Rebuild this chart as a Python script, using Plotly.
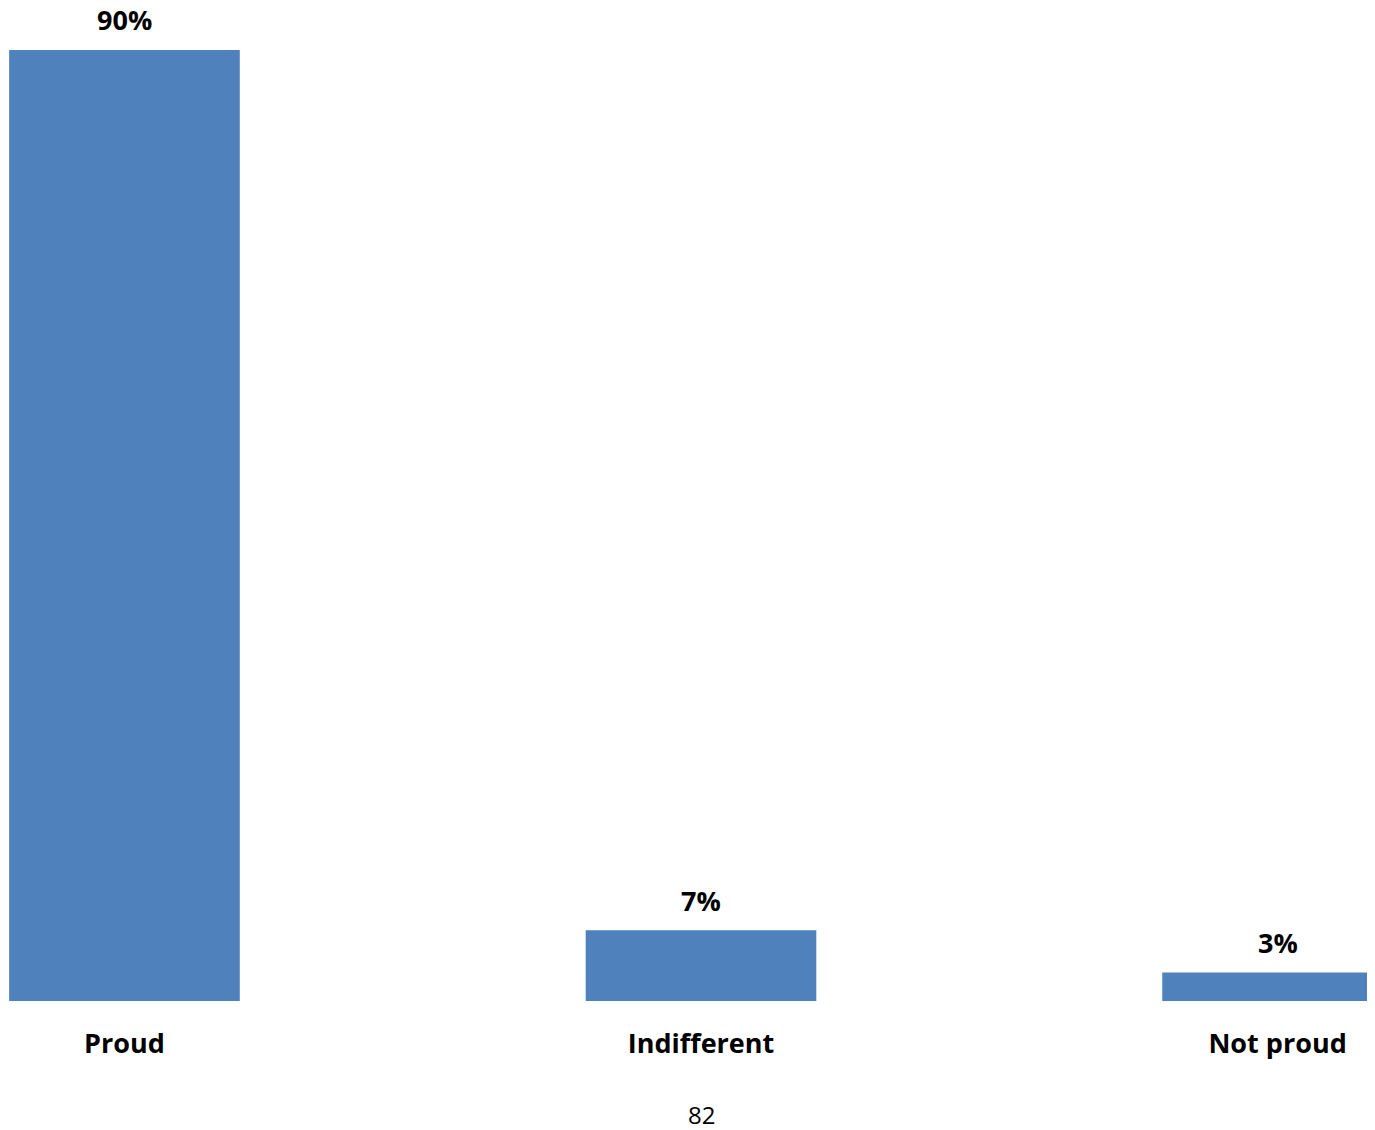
import plotly.graph_objects as go

categories = ["Proud", "Indifferent", "Not proud"]
values = [90, 6.7, 2.7]
labels = ["90%", "7%", "3%"]
page_number = "82"

BAR_COLOR = "#4F81BD"
FONT = "Open Sans"

fig = go.Figure(
    go.Bar(
        x=categories,
        y=values,
        width=0.4,
        marker=dict(color=BAR_COLOR, line=dict(width=0)),
        hoverinfo="skip",
    )
)

for c, v, t in zip(categories, values, labels):
    fig.add_annotation(
        x=c, y=v, text=t, showarrow=False, yanchor="middle", yshift=30,
        font=dict(family=FONT, size=27, color="#000000", weight="bold"),
    )

fig.add_annotation(
    x=0.5075, y=-113 / 993, xref="paper", yref="paper", text=page_number,
    showarrow=False, yanchor="middle",
    font=dict(family=FONT, size=24, color="#000000"),
)

fig.update_layout(
    width=1367, height=1122,
    margin=dict(l=0, r=0, t=0, b=129),
    paper_bgcolor="white", plot_bgcolor="white",
    showlegend=False,
    xaxis=dict(
        range=[-0.202, 2.169], showgrid=False, zeroline=False, showline=False,
        ticks="", ticklabelstandoff=24,
        tickfont=dict(family=FONT, size=27, color="#000000", weight="bold"),
    ),
    yaxis=dict(range=[0, 93.97], visible=False),
)

fig.write_html("out.html")
